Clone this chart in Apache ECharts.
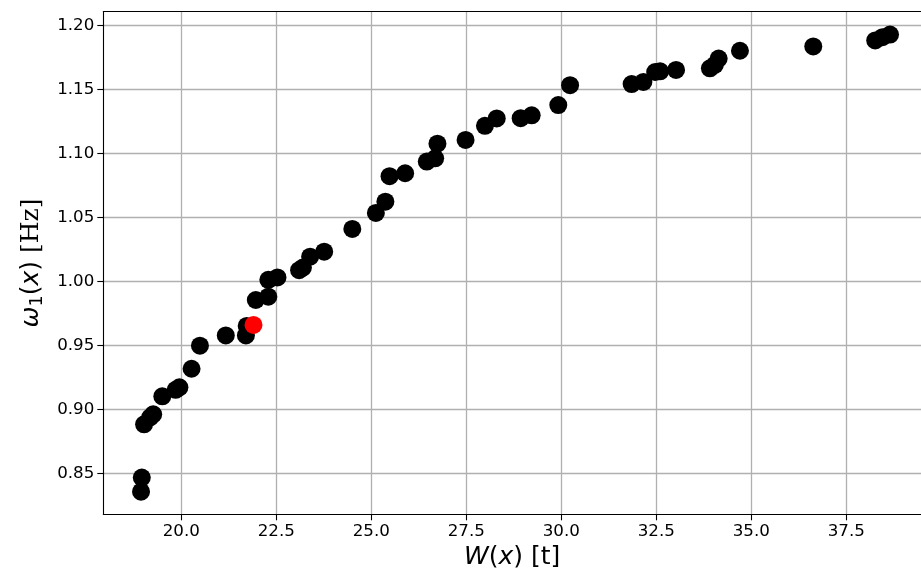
<!DOCTYPE html>
<html>
<head>
<meta charset="utf-8">
<script src="https://cdn.jsdelivr.net/npm/echarts@6/dist/echarts.min.js"></script>
<style>html,body{margin:0;padding:0;background:#fff;}#c{width:921px;height:577px;}</style>
</head>
<body>
<div id="c"></div>
<script>
// Black points: W(x) [t] and omega_1(x) [Hz]
const wValues = [18.94, 18.96, 19.02, 19.18, 19.26, 19.50, 19.85, 19.95, 20.27, 20.49,
  21.17, 21.70, 21.72, 21.96, 22.29, 22.29, 22.53, 23.10, 23.20, 23.39, 23.76, 24.50,
  25.12, 25.37, 25.48, 25.89, 26.46, 26.68, 26.74, 27.48, 27.99, 28.30, 28.93, 29.22,
  29.92, 30.23, 31.85, 32.16, 32.47, 32.60, 33.02, 33.91, 34.04, 34.14, 34.70, 36.63,
  38.26, 38.45, 38.65];
const omegaValues = [0.836, 0.847, 0.8886, 0.8940, 0.8964, 0.9105, 0.9155, 0.9175, 0.9320, 0.9500,
  0.9580, 0.9580, 0.9654, 0.9857, 0.9883, 1.0015, 1.0033, 1.0090, 1.0110, 1.0195, 1.0234, 1.0412,
  1.0537, 1.0625, 1.0824, 1.0847, 1.0938, 1.0964, 1.1078, 1.1107, 1.1218, 1.1275, 1.1277, 1.1300,
  1.1380, 1.1535, 1.1544, 1.1560, 1.1638, 1.1643, 1.1654, 1.1667, 1.1693, 1.1743, 1.1804, 1.1838,
  1.1885, 1.1910, 1.1930];
// Highlighted point
const redW = [21.90];
const redOmega = [0.9662];
// Tick values
const xTicks = [20.0, 22.5, 25.0, 27.5, 30.0, 32.5, 35.0, 37.5];
const yTicks = [0.85, 0.90, 0.95, 1.00, 1.05, 1.10, 1.15, 1.20];

const blackData = wValues.map((w, i) => [w, omegaValues[i]]);
const redData = redW.map((w, i) => [w, redOmega[i]]);

const chart = echarts.init(document.getElementById('c'), null, {renderer: 'canvas'});
const font = 'DejaVu Sans';
const X_MIN = 17.947, X_MAX = 39.465;
chart.setOption({
  animation: false,
  backgroundColor: '#ffffff',
  grid: {left: 103.3, top: 11.7, right: 0, bottom: 62.7, show: false},
  xAxis: [{
    type: 'value', min: X_MIN, max: X_MAX, position: 'bottom',
    axisLine: {show: true, onZero: false, lineStyle: {color: '#000', width: 1.1}},
    axisTick: {show: true, customValues: xTicks, length: 6, lineStyle: {color: '#000', width: 1.1}},
    axisLabel: {customValues: xTicks, formatter: v => v.toFixed(1), color: '#000',
      fontFamily: font, fontSize: 16.7, margin: 9},
    splitLine: {show: true, lineStyle: {color: '#b0b0b0', width: 1.3}},
    name: '{i|W}{n|(}{i|x}{n|) [t]}',
    nameLocation: 'middle', nameGap: 30,
    nameTextStyle: {
      rich: {
        i: {fontFamily: font, fontStyle: 'italic', fontSize: 25, color: '#000'},
        n: {fontFamily: font, fontSize: 25, color: '#000'}
      }
    }
  }, {
    type: 'value', min: X_MIN, max: X_MAX, position: 'top',
    axisLine: {show: true, onZero: false, lineStyle: {color: '#000', width: 1.1}},
    axisTick: {show: false}, axisLabel: {show: false}, splitLine: {show: false}
  }],
  yAxis: {
    type: 'value', min: 0.8183, max: 1.2109,
    axisLine: {show: true, onZero: false, lineStyle: {color: '#000', width: 1.1}},
    axisTick: {show: true, customValues: yTicks, length: 6, lineStyle: {color: '#000', width: 1.1}},
    axisLabel: {customValues: yTicks, formatter: v => v.toFixed(2), color: '#000',
      fontFamily: font, fontSize: 16.7, margin: 9},
    splitLine: {show: true, lineStyle: {color: '#b0b0b0', width: 1.3}},
    name: '{i|ω}{sub|1}{n|(}{i|x}{n|) }{s|[Hz]}',
    nameLocation: 'middle', nameGap: 57, nameRotate: 90,
    nameTextStyle: {
      rich: {
        i: {fontFamily: font, fontStyle: 'italic', fontSize: 25, color: '#000'},
        n: {fontFamily: font, fontSize: 25, color: '#000'},
        sub: {fontFamily: font, fontSize: 17.5, color: '#000', padding: [11, 0, 0, 0]},
        s: {fontFamily: 'DejaVu Serif', fontSize: 25, color: '#000'}
      }
    }
  },
  series: [
    {type: 'scatter', xAxisIndex: 0, data: blackData, symbolSize: 18, itemStyle: {color: '#000000', opacity: 1}, z: 3},
    {type: 'scatter', xAxisIndex: 0, data: redData, symbolSize: 18, itemStyle: {color: '#ff0000', opacity: 1}, z: 4}
  ]
});
</script>
</body>
</html>
